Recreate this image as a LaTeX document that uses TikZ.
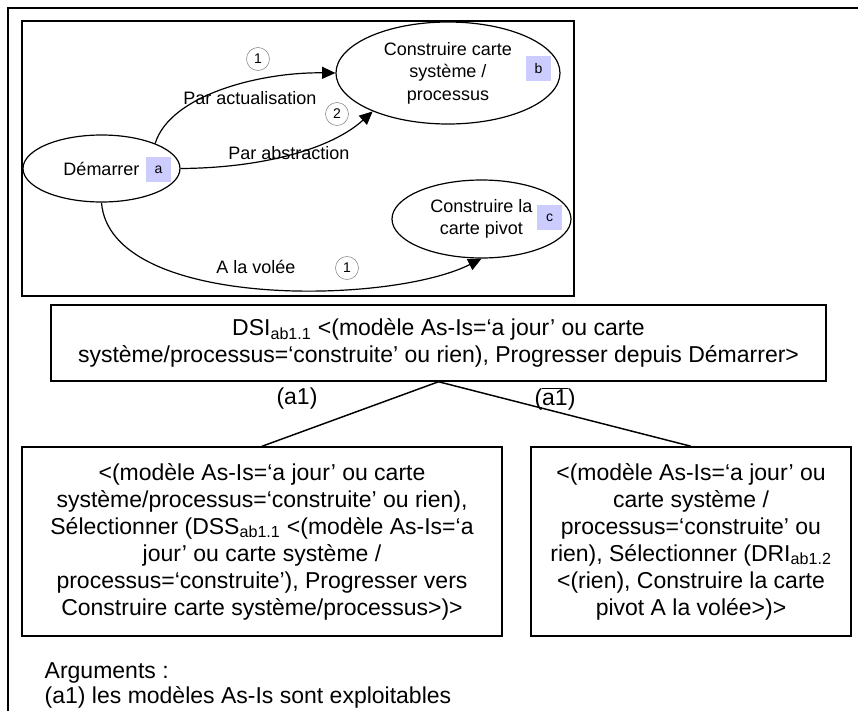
\documentclass[tikz,border=0pt]{standalone}
\usepackage{fontspec}
\setmainfont{Liberation Sans}
\usetikzlibrary{shapes.geometric,arrows.meta}
\definecolor{lavande}{RGB}{204,204,255}

\begin{document}
\begin{tikzpicture}[x=0.75pt,y=-0.75pt,
  etat/.style={draw,ellipse,line width=0.9pt,inner sep=0pt,align=center,font=\fontsize{13.5}{16.9}\selectfont},
  lettre/.style={fill=lavande,minimum size=18.75pt,inner sep=0pt,font=\fontsize{10.5}{12}\selectfont},
  rond/.style={draw=gray,circle,minimum size=17.25pt,inner sep=0pt,font=\fontsize{10.5}{12}\selectfont},
  fleche/.style={line width=0.9pt,-{Triangle[length=10pt,width=9pt]}},
  etiq/.style={font=\fontsize{13.5}{16}\selectfont},
  boite/.style={draw,line width=1.1pt,align=center,inner sep=0pt,font=\fontsize{17.25}{20.25}\selectfont},
  texte/.style={font=\fontsize{17.25}{20.25}\selectfont},
  branche/.style={line width=1.1pt}]

\useasboundingbox (0,0) rectangle (858,711);
\draw[line width=1.1pt] (8,711) -- (8,8) -- (858,8);
\draw[line width=1.1pt] (22,21) rectangle (574,296);

% carte
\node[etat,minimum width=117.75pt,minimum height=50.25pt] (dem) at (101.5,168.5) {Démarrer};
\node[etat,minimum width=168pt,minimum height=76.5pt] (csp) at (448,73) {Construire carte\\système /\\processus};
\node[etat,minimum width=134.25pt,minimum height=58.5pt] (cpiv) at (481.5,219) {Construire la\\carte pivot};

\node[lettre] (la) at (158.5,169.5) {a};
\node[lettre] (lb) at (538.5,68.5) {b};
\node[lettre] (lc) at (549.5,217.5) {c};

\draw[fleche] (dem.25) .. controls (170,95) and (260,72) .. (csp.west);
\draw[fleche] (dem.east) .. controls (260,168) and (330,150) .. (csp.207);
\draw[fleche] (dem.south) .. controls (110,310) and (390,305) .. (cpiv.south);

\node[etiq] (tact) at (250,98) {Par actualisation};
\node[etiq] (tabs) at (289,153) {Par abstraction};
\node[etiq] (tvol) at (256,267) {A la volée};

\node[rond] (n1) at (258,59) {1};
\node[rond] (n2) at (337,114) {2};
\node[rond] (n3) at (347,268) {1};

% arbre
\node[boite,minimum width=581.25pt,minimum height=57pt] (dsi) at (438.5,343)
  {DSI\textsubscript{ab1.1} <(modèle As-Is=‘a jour’ ou carte\\système/processus=‘construite’ ou rien), Progresser depuis Démarrer>};
\node[boite,minimum width=360pt,minimum height=141.75pt] (gauche) at (262,541.5)
  {<(modèle As-Is=‘a jour’ ou carte\\système/processus=‘construite’ ou rien),\\Sélectionner (DSS\textsubscript{ab1.1} <(modèle As-Is=‘a\\jour’ ou carte système /\\processus=‘construite’), Progresser vers\\Construire carte système/processus>)>};
\node[boite,minimum width=240pt,minimum height=141.75pt] (droite) at (691,541.5)
  {<(modèle As-Is=‘a jour’ ou\\carte système /\\processus=‘construite’ ou\\rien), Sélectionner (DRI\textsubscript{ab1.2}\\<(rien), Construire la carte\\pivot A la volée>)>};

\draw[branche] (dsi.south) -- (gauche.north);
\draw[branche] (dsi.south) -- (droite.north);
\node[texte] (ga) at (297,399) {(a1)};
\node[texte] (dr) at (555,399) {($\overline{\mbox{a1}}$)};

\node[texte,anchor=base west] (arg) at (40,678) {Arguments :};
\node[texte,anchor=base west] (arg1) at (40,703) {(a1) les modèles As-Is sont exploitables};

\end{tikzpicture}
\end{document}
